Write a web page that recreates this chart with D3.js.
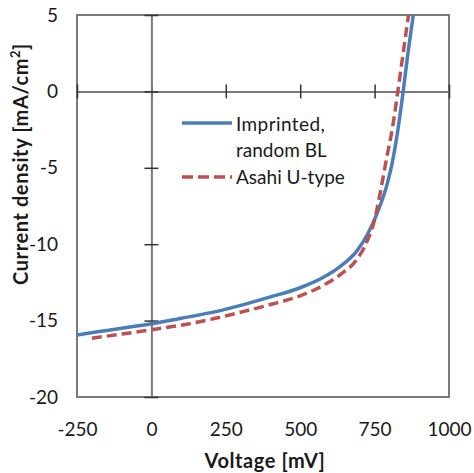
<!DOCTYPE html>
<html>
<head>
<meta charset="utf-8">
<script src="https://cdn.jsdelivr.net/npm/d3@7"></script>
<style>
  html, body { margin: 0; padding: 0; background: #fff; }
  svg { display: block; }
  text { font-family: Lato, "Open Sans", sans-serif; fill: #1a1a1a; }
</style>
</head>
<body>
<svg id="chart" width="474" height="473"></svg>
<script>
// ---- data ----
const xTicks = [-250, 0, 250, 500, 750, 1000];
const yTicks = [5, 0, -5, -10, -15, -20];

const imprintedV = [-250, -175, -100, 0, 100, 200, 300, 400, 500, 575, 635, 690, 725, 760, 793, 810, 826, 846, 862, 880];
const imprintedJ = [-15.94, -15.72, -15.5, -15.2, -14.85, -14.48, -14.0, -13.45, -12.85, -12.2, -11.45, -10.45, -9.4, -7.9, -6.0, -4.6, -2.8, 0, 2.5, 5];

const asahiV = [-200, -100, 0, 100, 200, 300, 400, 500, 577, 634, 690, 725, 750, 775, 792, 810, 828, 846, 864];
const asahiJ = [-16.15, -15.88, -15.6, -15.3, -14.92, -14.45, -13.95, -13.38, -12.7, -12.0, -11.0, -9.8, -8.4, -6.0, -4.2, -2.4, 0, 2.5, 5];

const seriesNames = ["Imprinted,", "random BL", "Asahi U-type"];
const xTitle = "Voltage [mV]";

// ---- layout ----
const svg = d3.select("#chart");
const L = 77, R = 449, T = 15, B = 397;
const x = d3.scaleLinear().domain([-250, 1000]).range([L, R]);
const y = d3.scaleLinear().domain([-20, 5]).range([B, T]);
const fmt = d => String(d);
const FONT = "Lato, 'Open Sans', sans-serif";

const blue = "#4a7ebb", red = "#c0504d";

// clip
svg.append("defs").append("clipPath").attr("id", "clip")
  .append("rect").attr("x", L).attr("y", T).attr("width", R - L).attr("height", B - T);

// frame
svg.append("rect").attr("x", L).attr("y", T).attr("width", R - L).attr("height", B - T)
  .attr("fill", "none").attr("stroke", "#7a7a7a").attr("stroke-width", 2);

// zero axes (with crossing ticks)
const hAxis = svg.append("g").attr("transform", `translate(0,${y(0)})`)
  .call(d3.axisBottom(x).tickValues(xTicks).tickFormat("").tickSizeOuter(0));
hAxis.select(".domain").attr("stroke", "#7a7a7a").attr("stroke-width", 2);
hAxis.selectAll(".tick line").attr("y1", -7).attr("y2", 7).attr("stroke", "#333").attr("stroke-width", 1.5);

const vAxis = svg.append("g").attr("transform", `translate(${x(0)},0)`)
  .call(d3.axisLeft(y).tickValues(yTicks).tickFormat("").tickSizeOuter(0));
vAxis.select(".domain").attr("stroke", "#7a7a7a").attr("stroke-width", 2);
vAxis.selectAll(".tick line").attr("x1", -7).attr("x2", 7).attr("stroke", "#333").attr("stroke-width", 1.5);

// tick labels on frame
const yLab = svg.append("g").attr("transform", `translate(${L},0)`)
  .call(d3.axisLeft(y).tickValues(yTicks).tickFormat(fmt).tickSize(0).tickPadding(19));
yLab.select(".domain").remove();
yLab.selectAll("text").attr("font-size", 19).style("font-family", FONT).attr("fill", "#1a1a1a");

const xLab = svg.append("g").attr("transform", `translate(0,${B})`)
  .call(d3.axisBottom(x).tickValues(xTicks).tickFormat(fmt).tickSize(0).tickPadding(26));
xLab.select(".domain").remove();
xLab.selectAll("text").attr("font-size", 19).style("font-family", FONT).attr("fill", "#1a1a1a");

// curves
const line = d3.line().x(d => x(d[0])).y(d => y(d[1])).curve(d3.curveMonotoneX);
const gC = svg.append("g").attr("clip-path", "url(#clip)");
gC.append("path").datum(imprintedV.map((v, i) => [v, imprintedJ[i]]))
  .attr("d", line).attr("fill", "none").attr("stroke", blue).attr("stroke-width", 3.5);
gC.append("path").datum(asahiV.map((v, i) => [v, asahiJ[i]]))
  .attr("d", line).attr("fill", "none").attr("stroke", red).attr("stroke-width", 3.5)
  .attr("stroke-dasharray", "10,5");

// legend
const lg = svg.append("g");
lg.append("line").attr("x1", 182).attr("x2", 232).attr("y1", 123).attr("y2", 123)
  .attr("stroke", blue).attr("stroke-width", 3.5);
lg.append("line").attr("x1", 182).attr("x2", 232).attr("y1", 177).attr("y2", 177)
  .attr("stroke", red).attr("stroke-width", 3.5).attr("stroke-dasharray", "11,5");
lg.append("text").attr("x", 236).attr("y", 131).attr("font-size", 19).attr("letter-spacing", 0.4).text(seriesNames[0]);
lg.append("text").attr("x", 236).attr("y", 157).attr("font-size", 19).text(seriesNames[1]);
lg.append("text").attr("x", 236).attr("y", 184).attr("font-size", 19).text(seriesNames[2]);

// axis titles
svg.append("text").attr("x", 265).attr("y", 468).attr("text-anchor", "middle")
  .attr("font-size", 20).attr("letter-spacing", 0.6).attr("font-weight", "bold").text(xTitle);

const yt = svg.append("text").attr("transform", "translate(28,164) rotate(-90)")
  .attr("text-anchor", "middle").attr("font-size", 20).attr("letter-spacing", 0.6).attr("font-weight", "bold");
yt.append("tspan").text("Current density [mA/cm");
yt.append("tspan").attr("font-size", 13).attr("dy", -8).text("2");
yt.append("tspan").attr("dy", 8).text("]");
</script>
</body>
</html>
